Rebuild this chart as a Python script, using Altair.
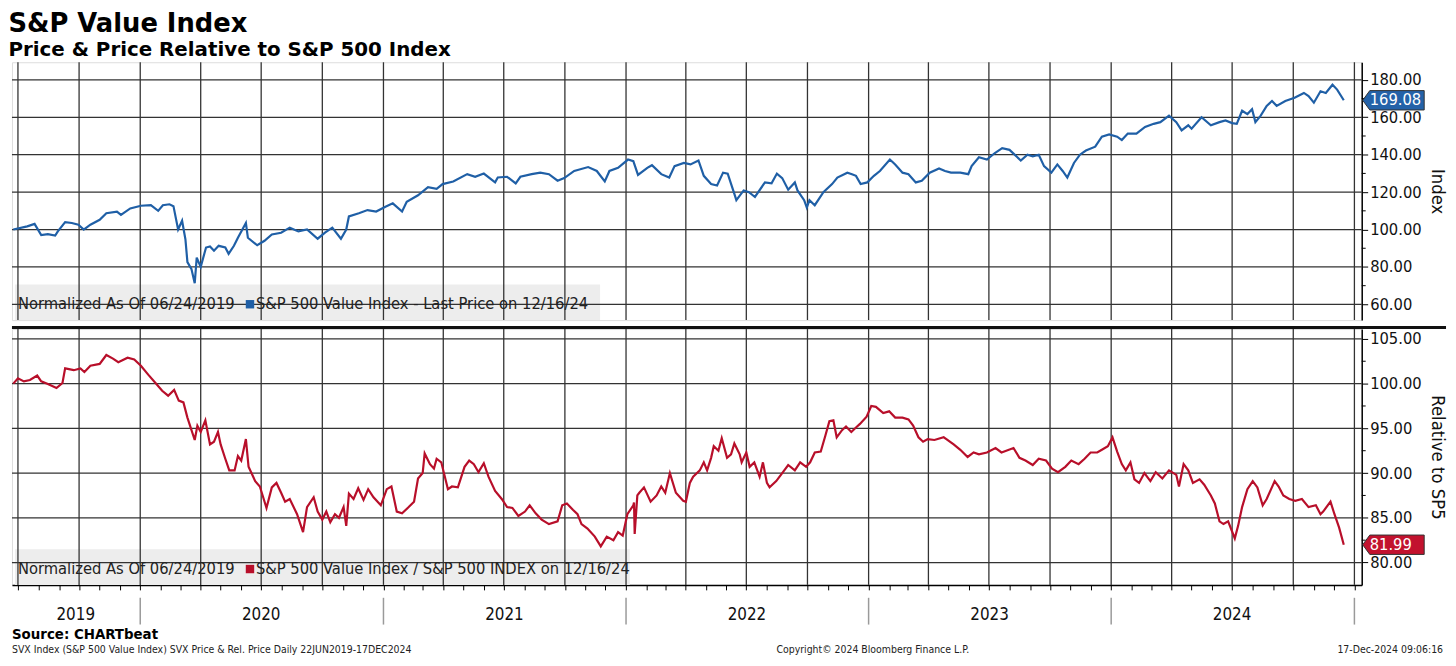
import altair as alt
import pandas as pd

TITLE = "S&P Value Index"
SUBTITLE = "Price & Price Relative to S&P 500 Index"
LEGEND_NOTE = "Normalized As Of 06/24/2019"
PRICE_LABEL = "S&P 500 Value Index - Last Price on 12/16/24"
REL_LABEL = "S&P 500 Value Index / S&P 500 INDEX on 12/16/24"
PRICE_AXIS_TITLE = "Index"
REL_AXIS_TITLE = "Relative to SP5"
SOURCE = "Source: CHARTbeat"
FOOT_LEFT = "SVX Index (S&P 500 Value Index) SVX Price & Rel. Price  Daily 22JUN2019-17DEC2024"
FOOT_MID = "Copyright\u00a9 2024 Bloomberg Finance L.P."
FOOT_RIGHT = "17-Dec-2024 09:06:16"

price_dates = [
    "2019-06-24", "2019-07-15", "2019-07-26", "2019-08-05", "2019-08-15", "2019-08-26", "2019-08-30",
    "2019-09-10", "2019-09-20", "2019-09-30", "2019-10-08", "2019-10-18", "2019-11-01", "2019-11-11",
    "2019-11-27", "2019-12-03", "2019-12-17", "2020-01-02", "2020-01-17", "2020-01-28", "2020-02-04",
    "2020-02-14", "2020-02-20", "2020-02-27", "2020-03-04", "2020-03-09", "2020-03-12", "2020-03-18",
    "2020-03-23", "2020-03-26", "2020-04-01", "2020-04-09", "2020-04-15", "2020-04-21", "2020-04-28",
    "2020-05-08", "2020-05-13", "2020-05-21", "2020-05-27", "2020-06-08", "2020-06-11", "2020-06-25",
    "2020-07-06", "2020-07-17", "2020-07-31", "2020-08-13", "2020-08-26", "2020-09-08", "2020-09-24",
    "2020-10-05", "2020-10-16", "2020-10-29", "2020-11-06", "2020-11-10", "2020-11-25", "2020-12-08",
    "2020-12-21", "2021-01-04", "2021-01-15", "2021-01-29", "2021-02-05", "2021-02-22", "2021-03-09",
    "2021-03-22", "2021-03-31", "2021-04-16", "2021-05-07", "2021-05-19", "2021-06-01", "2021-06-18",
    "2021-06-22", "2021-07-06", "2021-07-19", "2021-07-26", "2021-08-12", "2021-08-25", "2021-09-07",
    "2021-09-20", "2021-09-30", "2021-10-15", "2021-11-05", "2021-11-18", "2021-11-30", "2021-12-07",
    "2021-12-20", "2022-01-04", "2022-01-12", "2022-01-19", "2022-02-02", "2022-02-09", "2022-02-23",
    "2022-03-07", "2022-03-15", "2022-03-29", "2022-04-08", "2022-04-20", "2022-04-28", "2022-05-09",
    "2022-05-18", "2022-05-27", "2022-06-03", "2022-06-13", "2022-06-16", "2022-06-27", "2022-07-05",
    "2022-07-14", "2022-07-29", "2022-08-08", "2022-08-16", "2022-08-24", "2022-09-02", "2022-09-12",
    "2022-09-16", "2022-09-26", "2022-09-30", "2022-10-04", "2022-10-12", "2022-10-25", "2022-11-07",
    "2022-11-15", "2022-11-30", "2022-12-07", "2022-12-13", "2022-12-20", "2022-12-30", "2023-01-09",
    "2023-01-18", "2023-02-02", "2023-02-10", "2023-02-21", "2023-03-02", "2023-03-13", "2023-03-22",
    "2023-04-03", "2023-04-17", "2023-04-26", "2023-05-05", "2023-05-19", "2023-05-31", "2023-06-05",
    "2023-06-16", "2023-06-28", "2023-07-10", "2023-07-21", "2023-08-01", "2023-08-18", "2023-08-28",
    "2023-09-05", "2023-09-14", "2023-09-22", "2023-10-03", "2023-10-12", "2023-10-20", "2023-10-27",
    "2023-11-06", "2023-11-15", "2023-11-24", "2023-12-08", "2023-12-18", "2023-12-29", "2024-01-10",
    "2024-01-17", "2024-01-26", "2024-02-08", "2024-02-21", "2024-03-05", "2024-03-15", "2024-03-28",
    "2024-04-08", "2024-04-16", "2024-04-26", "2024-05-01", "2024-05-16", "2024-05-30", "2024-06-12",
    "2024-06-21", "2024-07-01", "2024-07-08", "2024-07-16", "2024-07-24", "2024-07-31", "2024-08-05",
    "2024-08-13", "2024-08-22", "2024-08-30", "2024-09-06", "2024-09-19", "2024-10-03", "2024-10-17",
    "2024-10-24", "2024-11-01", "2024-11-11", "2024-11-19", "2024-11-29", "2024-12-06", "2024-12-16",
]
price_values = [
    100.0, 101.7, 103.0, 97.0, 97.5, 96.8, 99.0,
    104.0, 103.5, 102.6, 100.0, 102.6, 105.2, 108.7,
    109.6, 107.8, 111.3, 112.7, 113.0, 110.0, 113.0,
    113.5, 112.5, 100.0, 104.7, 94.8, 82.6, 79.0,
    71.3, 85.0, 80.0, 90.4, 91.0, 88.7, 91.3,
    90.4, 87.0, 91.3, 95.6, 103.5, 95.6, 91.6,
    94.0, 97.4, 98.3, 101.0, 99.0, 100.0, 95.1,
    98.3, 101.0, 95.1, 100.0, 107.0, 108.7, 110.4,
    109.6, 112.2, 114.0, 109.6, 114.8, 118.3, 122.6,
    121.7, 124.3, 125.7, 129.6, 128.2, 129.9, 125.2,
    127.8, 128.2, 124.7, 128.2, 129.6, 130.4, 129.6,
    126.1, 127.5, 131.3, 133.4, 131.3, 125.7, 131.3,
    133.0, 137.4, 136.5, 129.2, 133.0, 134.4, 129.6,
    127.8, 133.9, 135.6, 134.8, 136.9, 128.7, 124.3,
    123.5, 130.4, 129.9, 119.1, 115.7, 120.9, 120.0,
    117.4, 125.2, 124.7, 129.9, 127.5, 121.3, 125.2,
    120.9, 115.7, 111.8, 115.7, 113.0, 120.0, 124.3,
    127.8, 130.4, 129.6, 128.7, 124.3, 125.2, 128.7,
    131.3, 137.4, 134.8, 130.4, 129.6, 125.2, 126.1,
    130.4, 132.6, 131.3, 130.4, 130.4, 129.6, 133.9,
    138.6, 137.4, 140.9, 143.5, 142.6, 136.9, 140.0,
    139.1, 140.0, 133.9, 130.4, 134.8, 131.3, 127.8,
    135.6, 140.0, 142.2, 144.3, 149.6, 150.8, 149.6,
    147.8, 151.3, 151.3, 154.8, 156.5, 157.4, 160.9,
    157.4, 153.0, 155.7, 153.9, 160.0, 155.7, 157.4,
    158.3, 156.9, 156.5, 163.5, 161.7, 164.3, 157.4,
    160.9, 166.1, 168.7, 166.1, 168.7, 170.4, 173.0,
    171.3, 167.8, 173.9, 173.0, 177.4, 174.8, 169.08,
]

rel_dates = [
    "2019-06-24", "2019-07-01", "2019-07-10", "2019-07-19", "2019-07-30", "2019-08-05", "2019-08-15",
    "2019-08-28", "2019-09-06", "2019-09-10", "2019-09-23", "2019-10-03", "2019-10-09", "2019-10-18",
    "2019-11-01", "2019-11-11", "2019-11-21", "2019-11-29", "2019-12-13", "2019-12-23", "2020-01-02",
    "2020-01-13", "2020-01-24", "2020-02-03", "2020-02-12", "2020-02-21", "2020-02-28", "2020-03-06",
    "2020-03-12", "2020-03-23", "2020-03-27", "2020-04-01", "2020-04-08", "2020-04-15", "2020-04-21",
    "2020-04-27", "2020-05-01", "2020-05-08", "2020-05-14", "2020-05-22", "2020-05-27", "2020-06-01",
    "2020-06-08", "2020-06-12", "2020-06-22", "2020-06-29", "2020-07-09", "2020-07-17", "2020-07-24",
    "2020-07-31", "2020-08-06", "2020-08-13", "2020-08-24", "2020-09-02", "2020-09-08", "2020-09-18",
    "2020-09-24", "2020-10-01", "2020-10-07", "2020-10-13", "2020-10-20", "2020-10-26", "2020-11-02",
    "2020-11-06", "2020-11-10", "2020-11-17", "2020-11-24", "2020-12-02", "2020-12-09", "2020-12-17",
    "2020-12-28", "2021-01-06", "2021-01-13", "2021-01-21", "2021-01-29", "2021-02-08", "2021-02-16",
    "2021-02-22", "2021-03-01", "2021-03-04", "2021-03-12", "2021-03-18", "2021-03-22", "2021-03-29",
    "2021-04-08", "2021-04-14", "2021-04-23", "2021-05-03", "2021-05-10", "2021-05-17", "2021-05-24",
    "2021-06-01", "2021-06-08", "2021-06-18", "2021-06-28", "2021-07-06", "2021-07-14", "2021-07-23",
    "2021-08-02", "2021-08-09", "2021-08-18", "2021-08-27", "2021-09-07", "2021-09-20", "2021-09-27",
    "2021-10-04", "2021-10-13", "2021-10-20", "2021-10-26", "2021-11-04", "2021-11-15", "2021-11-24",
    "2021-12-03", "2021-12-13", "2021-12-20", "2021-12-27", "2022-01-03", "2022-01-12", "2022-01-13",
    "2022-01-14", "2022-01-18", "2022-01-21", "2022-01-28", "2022-02-07", "2022-02-16", "2022-02-23",
    "2022-03-01", "2022-03-08", "2022-03-17", "2022-03-28", "2022-04-01", "2022-04-07", "2022-04-12",
    "2022-04-22", "2022-04-28", "2022-05-03", "2022-05-09", "2022-05-13", "2022-05-20", "2022-05-25",
    "2022-06-02", "2022-06-08", "2022-06-13", "2022-06-21", "2022-06-24", "2022-07-01", "2022-07-06",
    "2022-07-13", "2022-07-21", "2022-07-26", "2022-08-01", "2022-08-05", "2022-08-15", "2022-08-24",
    "2022-09-02", "2022-09-12", "2022-09-20", "2022-09-29", "2022-10-05", "2022-10-12", "2022-10-21",
    "2022-10-28", "2022-11-03", "2022-11-09", "2022-11-14", "2022-11-22", "2022-11-28", "2022-12-06",
    "2022-12-13", "2022-12-19", "2022-12-29", "2023-01-05", "2023-01-12", "2023-01-23", "2023-02-01",
    "2023-02-10", "2023-02-21", "2023-03-02", "2023-03-09", "2023-03-17", "2023-03-24", "2023-03-31",
    "2023-04-10", "2023-04-24", "2023-04-28", "2023-05-09", "2023-05-19", "2023-05-30", "2023-06-08",
    "2023-06-16", "2023-06-28", "2023-07-11", "2023-07-20", "2023-08-07", "2023-08-16", "2023-08-25",
    "2023-09-05", "2023-09-14", "2023-09-25", "2023-10-04", "2023-10-13", "2023-10-24", "2023-11-02",
    "2023-11-13", "2023-11-22", "2023-12-01", "2023-12-11", "2023-12-18", "2023-12-27", "2024-01-03",
    "2024-01-10", "2024-01-17", "2024-01-23", "2024-01-30", "2024-02-05", "2024-02-12", "2024-02-20",
    "2024-02-29", "2024-03-08", "2024-03-18", "2024-03-28", "2024-04-08", "2024-04-12", "2024-04-19",
    "2024-04-26", "2024-05-03", "2024-05-13", "2024-05-20", "2024-05-30", "2024-06-05", "2024-06-12",
    "2024-06-18", "2024-06-25", "2024-07-05", "2024-07-10", "2024-07-16", "2024-07-24", "2024-08-01",
    "2024-08-08", "2024-08-16", "2024-08-22", "2024-09-03", "2024-09-09", "2024-09-16", "2024-09-25",
    "2024-10-04", "2024-10-14", "2024-10-24", "2024-11-04", "2024-11-11", "2024-11-15", "2024-11-26",
    "2024-12-02", "2024-12-09", "2024-12-16",
]
rel_values = [
    100.0, 100.6, 100.25, 100.4, 100.9, 100.25, 99.96,
    99.5, 100.07, 101.7, 101.5, 101.7, 101.3, 102.0,
    102.2, 103.2, 102.8, 102.4, 102.9, 102.7, 102.0,
    101.0, 100.07, 99.2, 98.65, 99.3, 98.1, 97.9,
    96.2, 93.7, 95.3, 94.6, 95.9, 93.2, 93.5,
    94.6, 93.2, 91.6, 90.3, 90.3, 91.9, 91.4,
    93.8, 90.7, 89.1, 88.5, 86.1, 88.4, 88.9,
    87.8, 86.8, 87.1, 85.4, 83.4, 86.2, 87.3,
    85.7, 84.8, 85.7, 84.5, 85.4, 85.0, 86.2,
    84.1, 87.7, 87.1, 88.3, 87.0, 88.2, 87.3,
    86.4, 88.2, 88.5, 85.7, 85.5, 86.2, 86.8,
    89.4, 90.0, 92.2, 91.0, 90.5, 91.6, 91.2,
    88.2, 88.5, 88.4, 90.7, 91.4, 91.0, 90.1,
    91.1, 89.6, 88.0, 87.1, 86.2, 86.1, 85.2,
    85.7, 86.4, 85.5, 84.8, 84.3, 84.6, 86.4,
    86.6, 85.9, 85.4, 84.3, 83.8, 82.9, 81.8,
    82.9, 82.5, 83.4, 83.0, 85.4, 86.4, 86.7,
    83.2, 87.5, 87.8, 88.4, 86.8, 87.5, 88.5,
    87.8, 90.0, 87.8, 86.9, 86.8, 88.9, 89.6,
    90.3, 91.2, 90.3, 91.7, 93.0, 92.5, 93.9,
    91.7, 92.1, 93.3, 92.1, 91.2, 92.3, 90.7,
    91.2, 89.6, 91.2, 88.9, 88.4, 89.1, 90.0,
    90.9, 90.3, 91.2, 90.7, 91.2, 92.3, 92.4,
    94.2, 95.8, 95.9, 94.0, 94.8, 95.2, 94.6,
    95.1, 95.5, 96.3, 97.5, 97.4, 96.7, 96.9,
    96.2, 96.2, 96.0, 95.3, 94.0, 93.5, 93.8,
    93.7, 94.0, 93.8, 93.2, 92.6, 91.8, 92.3,
    92.1, 92.3, 92.8, 92.3, 92.8, 91.7, 91.4,
    90.9, 91.6, 91.4, 90.5, 90.1, 90.7, 91.4,
    91.0, 91.6, 92.3, 92.3, 92.6, 93.0, 94.0,
    92.4, 91.0, 90.3, 91.2, 89.3, 88.9, 90.0,
    89.1, 90.1, 89.4, 90.3, 89.8, 88.5, 91.0,
    90.3, 88.9, 89.3, 88.7, 87.5, 86.6, 84.6,
    84.3, 84.6, 82.7, 84.1, 86.2, 88.2, 89.1,
    88.4, 86.4, 87.1, 89.1, 88.5, 87.5, 87.1,
    86.9, 87.1, 86.2, 86.4, 85.4, 85.7, 86.8,
    85.4, 83.9, 81.99,
]

price_ticks = [60, 80, 100, 120, 140, 160, 180]
price_minor = [70, 90, 110, 130, 150, 170]
rel_ticks = [80, 85, 90, 95, 100, 105]
rel_minor = [82.5, 87.5, 92.5, 97.5, 102.5]

quarter_dates = [
    "2019-07-01", "2019-10-01", "2020-01-01", "2020-04-01", "2020-07-01", "2020-10-01",
    "2021-01-01", "2021-04-01", "2021-07-01", "2021-10-01", "2022-01-01", "2022-04-01",
    "2022-07-01", "2022-10-01", "2023-01-01", "2023-04-01", "2023-07-01", "2023-10-01",
    "2024-01-01", "2024-04-01", "2024-07-01", "2024-10-01", "2025-01-01",
]
year_labels = ["2019", "2020", "2021", "2022", "2023", "2024"]
year_label_dates = ["2019-09-26", "2020-07-01", "2021-07-02", "2022-07-02", "2023-07-02", "2024-07-01"]
year_start_dates = ["2020-01-01", "2021-01-01", "2022-01-01", "2023-01-01", "2024-01-01", "2025-01-01"]

# ---------------------------------------------------------------- styling
FONT = "DejaVu Sans Condensed, Liberation Sans, sans-serif"
TITLE_FONT = "DejaVu Sans"
BLUE = "#1f5fa6"
RED = "#b80f2a"
BLUE_TAG = "#2462a8"
RED_TAG = "#c2122e"
GRID = "#333333"
BOX = "#ededed"
W, H1, H2 = 1361, 260, 258
TAG_PATH = "M -1 0 L -0.77 -0.315 L 1 -0.315 L 1 0.315 L -0.77 0.315 Z"

price_df = pd.DataFrame({"date": price_dates, "value": price_values})
rel_df = pd.DataFrame({"date": rel_dates, "value": rel_values})
quarter_df = pd.DataFrame({"date": quarter_dates})
price_tick_df = pd.DataFrame({"value": price_ticks})
price_minor_df = pd.DataFrame({"value": price_minor})
rel_tick_df = pd.DataFrame({"value": rel_ticks})
rel_minor_df = pd.DataFrame({"value": rel_minor})
year_df = pd.DataFrame({"date": year_label_dates, "label": year_labels})
year_sep_df = pd.DataFrame({"date": year_start_dates})
one = pd.DataFrame({"k": [0]})

x_scale = alt.Scale(
    type="utc",
    domain=[alt.DateTime(year=2019, month=6, date=22, utc=True),
            alt.DateTime(year=2025, month=1, date=12, utc=True)],
)
x_top = alt.X("date:T", scale=x_scale, axis=None)
x_axis_bottom = alt.Axis(
    orient="bottom", labels=False, title=None, grid=False, domain=True,
    domainColor="black", domainWidth=1.5, ticks=True, tickColor="black",
    tickSize=5, tickWidth=1, tickCount={"interval": "month", "step": 1},
)
x_bot = alt.X("date:T", scale=x_scale, axis=x_axis_bottom)


def y_axis(values, title):
    return alt.Axis(
        orient="right", values=values, format=".2f", title=title, grid=False,
        domain=True, domainColor="black", domainWidth=1.5, ticks=True,
        tickColor="black", tickSize=6, tickWidth=1, labelFont=FONT,
        labelFontSize=16.5, labelColor="#111111", labelPadding=2,
        labelFlush=False, labelOverlap=False, labelBound=False,
        titleFont=FONT, titleFontSize=18.5, titleFontWeight="normal",
        titleColor="#111111", titlePadding=6,
    )


y_top = alt.Y("value:Q", scale=alt.Scale(domain=[51.6, 189.4], nice=False, zero=False),
              axis=y_axis(price_ticks, PRICE_AXIS_TITLE))
y_bot = alt.Y("value:Q", scale=alt.Scale(domain=[77.5, 106.1], nice=False, zero=False),
              axis=y_axis(rel_ticks, REL_AXIS_TITLE))


def panel(df, color, tag_color, tick_df, minor_df, y_enc, x_enc, h, label, box_right):
    box = alt.Chart(one).mark_rect(color=BOX).encode(
        x=alt.value(3), x2=alt.value(box_right), y=alt.value(h - 36), y2=alt.value(h))
    vgrid = alt.Chart(quarter_df).mark_rule(color=GRID, strokeWidth=1.3).encode(x=x_enc)
    hgrid = alt.Chart(tick_df).mark_rule(color=GRID, strokeWidth=1.3).encode(y=y_enc)
    minor = alt.Chart(minor_df).mark_rule(color="black", strokeWidth=1).encode(
        y=y_enc, x=alt.value(W), x2=alt.value(W + 4))
    line = alt.Chart(df).mark_line(color=color, strokeWidth=2.2).encode(x=x_enc, y=y_enc)
    note = alt.Chart(one).mark_text(
        text=LEGEND_NOTE, align="left", baseline="middle", font=FONT, fontSize=16.5,
        color="#222222").encode(x=alt.value(6), y=alt.value(h - 16))
    sq = alt.Chart(one).mark_square(size=72, color=color, opacity=1).encode(
        x=alt.value(240), y=alt.value(h - 16))
    lab = alt.Chart(one).mark_text(
        text=label, align="left", baseline="middle", font=FONT, fontSize=16.5,
        color="#222222").encode(x=alt.value(246), y=alt.value(h - 16))
    last = df.tail(1)
    tag = alt.Chart(last).mark_point(
        shape=TAG_PATH, size=3844, filled=True, fill=tag_color, stroke="#333333",
        strokeWidth=1, opacity=1).encode(x=alt.value(W + 32), y=y_enc)
    tag_txt = alt.Chart(last).mark_text(
        align="left", baseline="middle", font=FONT, fontSize=16.5, color="white").encode(
        x=alt.value(W + 8), y=y_enc, text=alt.Text("value:Q", format=".2f"))
    return [box, vgrid, hgrid, minor, line, note, sq, lab, tag, tag_txt]


top_layers = panel(price_df, BLUE, BLUE_TAG, price_tick_df, price_minor_df, y_top, x_top,
                   H1, PRICE_LABEL, 593)
top = alt.layer(*top_layers).properties(width=W, height=H1)

bot_layers = panel(rel_df, RED, RED_TAG, rel_tick_df, rel_minor_df, y_bot, x_bot,
                   H2, REL_LABEL, 623)
separator = alt.Chart(one).mark_rule(color="#111111", strokeWidth=3).encode(
    x=alt.value(0), x2=alt.value(W + 85), y=alt.value(-1.5))
year_txt = alt.Chart(year_df).mark_text(
    font=FONT, fontSize=17, baseline="middle", align="center", color="#111111").encode(
    x=x_bot, y=alt.value(H2 + 30), text="label:N")
year_sep = alt.Chart(year_sep_df).mark_rule(color="#9a9a9a", strokeWidth=1.5).encode(
    x=x_bot, y=alt.value(H2 + 13), y2=alt.value(H2 + 40))
src = alt.Chart(one).mark_text(
    text=SOURCE, align="left", baseline="middle", font=FONT, fontSize=15,
    fontWeight="bold", color="black").encode(x=alt.value(0), y=alt.value(H2 + 50))
f_left = alt.Chart(one).mark_text(
    text=FOOT_LEFT, align="left", baseline="middle", font=FONT, fontSize=10.5,
    color="#222222").encode(x=alt.value(0), y=alt.value(H2 + 66))
f_mid = alt.Chart(one).mark_text(
    text=FOOT_MID, align="center", baseline="middle", font=FONT, fontSize=10.5,
    color="#222222").encode(x=alt.value(868), y=alt.value(H2 + 66))
f_right = alt.Chart(one).mark_text(
    text=FOOT_RIGHT, align="right", baseline="middle", font=FONT, fontSize=10.5,
    color="#222222").encode(x=alt.value(W + 82), y=alt.value(H2 + 66))

bottom = alt.layer(*bot_layers, separator, year_txt, year_sep, src, f_left, f_mid,
                   f_right).properties(width=W, height=H2)

chart = alt.vconcat(top, bottom, spacing=3).properties(
    padding={"left": 0, "top": 0, "right": 0, "bottom": 0},
    title=alt.TitleParams(
        text=TITLE, subtitle=SUBTITLE, anchor="start", font=TITLE_FONT, fontSize=26,
        fontWeight="bold", color="black", subtitleFont=TITLE_FONT, subtitleFontSize=20,
        subtitleFontWeight="bold", subtitleColor="black", subtitlePadding=3, offset=1,
    ),
).configure_view(stroke=None).configure(background="white")

chart.save("out.html", embed_options={"renderer": "svg", "actions": False})
